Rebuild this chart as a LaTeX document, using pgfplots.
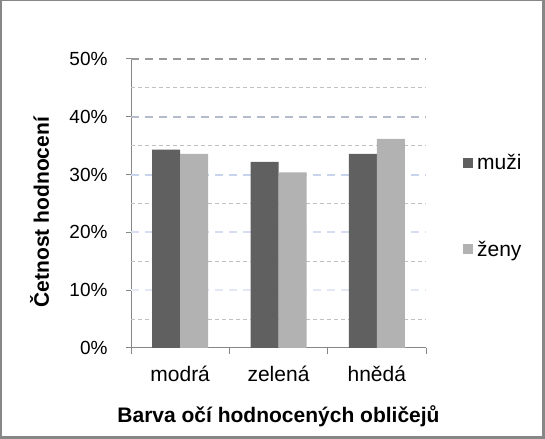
\documentclass[border=0pt]{standalone}
\usepackage{fontspec}
\setmainfont{Liberation Sans}
\usepackage{pgfplots}
\pgfplotsset{compat=1.18}

\definecolor{muzi}{HTML}{606060}
\definecolor{zeny}{HTML}{B2B2B2}
\definecolor{axisgray}{HTML}{868686}
\definecolor{framegray}{HTML}{878787}
\definecolor{minorgrid}{HTML}{C0C0C0}
\definecolor{grid50}{HTML}{999999}
\definecolor{grid40}{HTML}{B4BCCC}
\definecolor{grid30}{HTML}{C8D4EC}
\definecolor{grid20}{HTML}{D6DEF2}
\definecolor{grid10}{HTML}{E2E8F6}

\newcommand{\lblfont}{\fontsize{21bp}{25bp}\selectfont}
\newcommand{\tickfont}{\fontsize{19bp}{23bp}\selectfont}

\pgfplotsset{
  sqlegend/.style={legend image code/.code={\fill[##1] (0bp,-5bp) rectangle (10bp,5bp); \path (12bp,0bp);}},
}
\tikzset{majgrid/.style={line width=2bp, dash pattern=on 8bp off 6bp}}

\begin{document}
\begin{tikzpicture}[x=1bp,y=1bp]
\path[use as bounding box] (0,0) rectangle (545,439);
\fill[white] (0,0) rectangle (545,439);
\draw[framegray, line width=1.5bp] (0.75,1.5) rectangle (543.5,438.25);
\fill[framegray] (542,0) rectangle (545,439);
\fill[framegray] (0,0) rectangle (545,2.5);

\begin{axis}[
  at={(131bp,91bp)}, anchor=south west,
  scale only axis, width=295bp, height=289bp,
  xmin=-0.5, xmax=2.5, ymin=0, ymax=50,
  axis lines*=left,
  axis line style={axisgray, line width=1bp},
  ybar=0pt, bar width=28bp,
  xtick={0,1,2}, xticklabels={modrá,zelená,hnědá},
  major x tick style={draw=none},
  minor xtick={-0.5,0.5,1.5,2.5},
  ytick={0,10,...,50},
  yticklabel={\pgfmathprintnumber{\tick}\%},
  /pgf/number format/assume math mode=true,
  tick align=outside,
  major tick length=5bp, minor tick length=6bp,
  tick style={axisgray, line width=1bp},
  xticklabel style={font=\lblfont, yshift=-10bp},
  yticklabel style={font=\tickfont, xshift=-15bp},
  xlabel={Barva očí hodnocených obličejů},
  xlabel style={at={(axis description cs:0.5,-0.235)}, anchor=center, font=\lblfont\bfseries},
  ylabel={Četnost hodnocení},
  ylabel style={at={(axis description cs:-0.31,0.47)}, anchor=center, font=\lblfont\bfseries},
  legend style={draw=none, fill=none, at={(axis description cs:1.115,0.685)}, anchor=north west,
    row sep=66bp, font=\lblfont},
  legend cell align=left,
]
  \pgfplotsinvokeforeach{5,15,25,35,45}{
    \draw[minorgrid, line width=1bp, dash pattern=on 4bp off 3bp] (axis cs:-0.5,#1) -- (axis cs:2.5,#1);
  }
  \draw[grid10, majgrid] (axis cs:-0.5,10) -- (axis cs:2.5,10);
  \draw[grid20, majgrid] (axis cs:-0.5,20) -- (axis cs:2.5,20);
  \draw[grid30, majgrid] (axis cs:-0.5,30) -- (axis cs:2.5,30);
  \draw[grid40, majgrid] (axis cs:-0.5,40) -- (axis cs:2.5,40);
  \draw[grid50, majgrid] (axis cs:-0.5,50) -- (axis cs:2.5,50);

  \addplot[fill=muzi, draw=none, sqlegend] coordinates {(0,34.3) (1,32.2) (2,33.6)};
  \addplot[fill=zeny, draw=none, sqlegend] coordinates {(0,33.6) (1,30.4) (2,36.2)};
  \legend{muži,ženy}
\end{axis}
\end{tikzpicture}
\end{document}
